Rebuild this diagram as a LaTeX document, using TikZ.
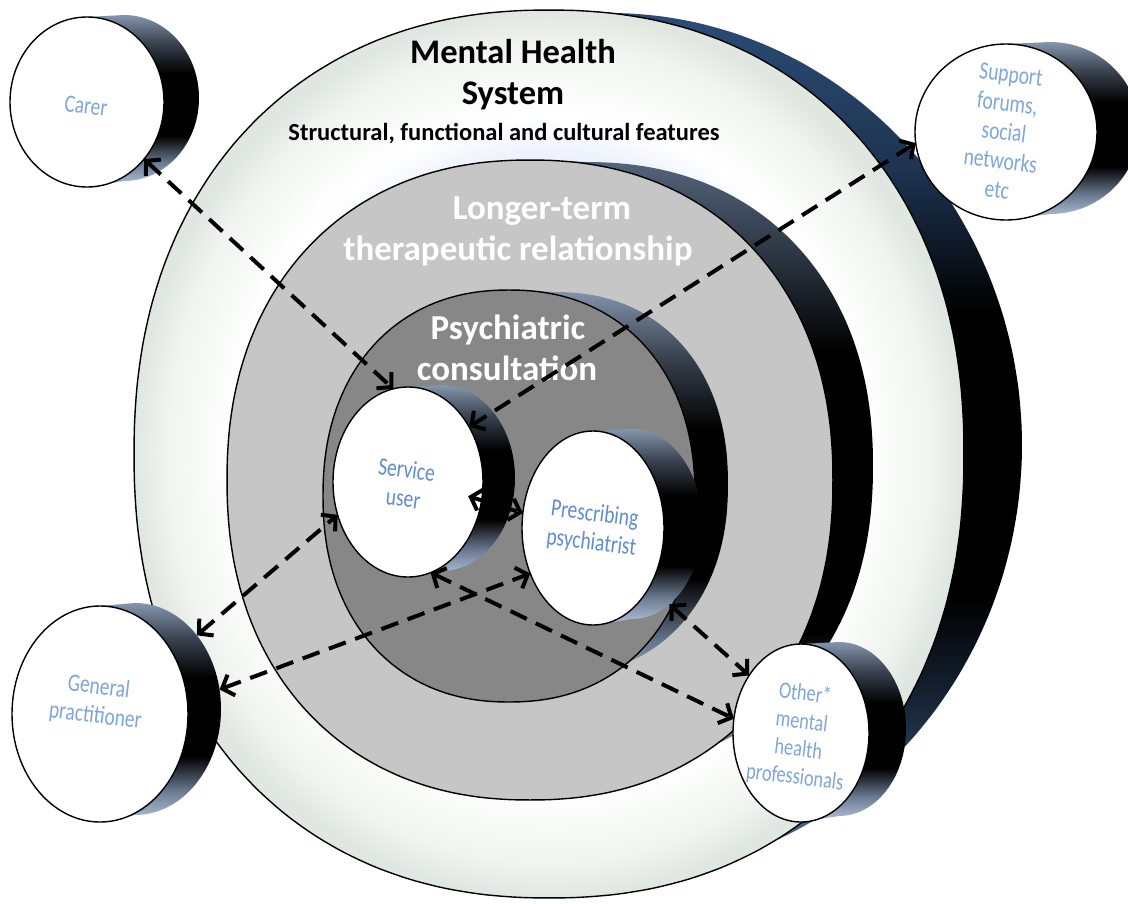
\documentclass[tikz,border=0pt]{standalone}
\usepackage{fontspec}
\setmainfont{Carlito}
\usetikzlibrary{shapes.geometric,arrows.meta}
% colours
\definecolor{glowA}{HTML}{E6EDFB}
\definecolor{rimA}{HTML}{F1F5F1}
\definecolor{rimB}{HTML}{E0E6E0}
\definecolor{midFace}{HTML}{C6C6C6}
\definecolor{inFace}{HTML}{878787}
\definecolor{obA}{HTML}{5A7699}
\definecolor{obB}{HTML}{3F5B80}
\definecolor{obC}{HTML}{1B2B40}
\definecolor{obD}{HTML}{1D3452}
\definecolor{obE}{HTML}{2B4C75}
\definecolor{mbA}{HTML}{9AABC3}
\definecolor{mbB}{HTML}{5D6C82}
\definecolor{mbC}{HTML}{2E3846}
\definecolor{mbD}{HTML}{55657C}
\definecolor{sbA}{HTML}{B4C6DE}
\definecolor{sbB}{HTML}{6B7B92}
\definecolor{sbC}{HTML}{3A4350}
\definecolor{sbD}{HTML}{8495AD}
\definecolor{nodeBlue}{HTML}{7EA5DC}
\definecolor{nodeBlueD}{HTML}{5F8CCF}
% shadings (bottom = 25bp, top = 75bp)
\pgfdeclareverticalshading{obside}{100bp}{color(0bp)=(obA); color(25bp)=(obA); color(30bp)=(obB); color(35bp)=(obC); color(42bp)=(black); color(58bp)=(black); color(66bp)=(obD); color(75bp)=(obE); color(100bp)=(obE)}
\pgfdeclareverticalshading{mbside}{100bp}{color(0bp)=(mbA); color(25bp)=(mbA); color(32bp)=(mbB); color(38bp)=(black); color(60bp)=(black); color(68bp)=(mbC); color(75bp)=(mbD); color(100bp)=(mbD)}
\pgfdeclareverticalshading{smside}{100bp}{color(0bp)=(sbA); color(25bp)=(sbA); color(32bp)=(sbB); color(40bp)=(black); color(58bp)=(black); color(67bp)=(sbC); color(75bp)=(sbD); color(100bp)=(sbD)}
\pgfdeclareradialshading{oface}{\pgfpoint{0bp}{0bp}}{color(0bp)=(glowA); color(16bp)=(glowA); color(19bp)=(white); color(23bp)=(rimA); color(25bp)=(rimB); color(50bp)=(rimB)}
\tikzset{
  cylface/.style={ellipse, draw=black, line width=1.4pt, fill=white, inner sep=0pt, outer sep=0pt},
  cylback/.style={ellipse, inner sep=0pt, outer sep=0pt},
  ringline/.style={draw=black, line width=1.4pt},
  titlelbl/.style={inner sep=0pt, text=black, font=\fontsize{34.5}{41}\selectfont\bfseries},
  sublbl/.style={inner sep=0pt, text=black, font=\fontsize{24.5}{29}\selectfont\bfseries},
  ringlbl/.style={inner sep=0pt, text=white, font=\fontsize{35}{41}\selectfont\bfseries},
  nlbl/.style={inner sep=0pt, align=center, text=nodeBlue, font=\fontsize{25}{29}\selectfont, rotate=-7, xscale=0.78},
  nlblin/.style={inner sep=0pt, align=center, text=nodeBlueD, font=\fontsize{25}{29}\selectfont, rotate=-7, xscale=0.78},
  arr/.style={line width=4pt, dash pattern=on 18pt off 10pt, >={Straight Barb[length=10pt,width=22pt]}, <->}
}
% cylinder: name, cx, cy, rx, ry, back cx, back cy, back rx, back ry
\newcommand\cyl[9]{%
  \shade[shading=smside] (#2,#3-#5) -- (#6,#7-#9) arc[start angle=-90,end angle=90,x radius=#8,y radius=#9] -- (#2,#3+#5) arc[start angle=90,end angle=270,x radius=#4,y radius=#5] -- cycle;
  \node[cylback, minimum width=2*#8, minimum height=2*#9] (#1b) at (#6,#7) {};
  \node[cylface, minimum width=2*#4, minimum height=2*#5] (#1) at (#2,#3) {};
}
\begin{document}
\begin{tikzpicture}[x=1pt,y=-1pt]
\useasboundingbox (0,0) rectangle (1128,903);
\fill[white] (0,0) rectangle (1128,903);
\clip (0,0) rectangle (1128,903);

% ---------- outer disk: Mental Health System ----------
\shade[shading=obside]
  plot[smooth cycle,domain=2.5:357.5,samples=72,variable=\t] ({610+412*cos(\t)},{445+432*sin(\t)})
  plot[smooth cycle,domain=2.5:357.5,samples=72,variable=\t] ({549+415*cos(\t)*abs(cos(\t))^(-0.0909)},{454+444*sin(\t)*abs(sin(\t))^(-0.0909)})
  (549,10) -- (610,13) -- (610,877) -- (549,898) -- cycle;
\shadedraw[shading=oface, ringline]
  plot[smooth cycle,domain=2.5:357.5,samples=72,variable=\t] ({549+415*cos(\t)*abs(cos(\t))^(-0.0909)},{454+444*sin(\t)*abs(sin(\t))^(-0.0909)});

% ---------- middle disk: longer-term relationship ----------
\shade[shading=mbside]
  plot[smooth cycle,domain=2.5:357.5,samples=72,variable=\t] ({585+288*cos(\t)*abs(cos(\t))^(-0.0909)},{466+304*sin(\t)*abs(sin(\t))^(-0.0909)})
  plot[smooth cycle,domain=2.5:357.5,samples=72,variable=\t] ({530+303*cos(\t)*abs(cos(\t))^(-0.0909)},{480+320*sin(\t)*abs(sin(\t))^(-0.0909)})
  (530,160) -- (585,162) -- (585,770) -- (530,800) -- cycle;
\filldraw[fill=midFace, ringline]
  plot[smooth cycle,domain=2.5:357.5,samples=72,variable=\t] ({530+303*cos(\t)*abs(cos(\t))^(-0.0909)},{480+320*sin(\t)*abs(sin(\t))^(-0.0909)});

% ---------- inner disk: psychiatric consultation ----------
\shade[shading=smside]
  plot[smooth cycle,domain=2.5:357.5,samples=72,variable=\t] ({555+173*cos(\t)*abs(cos(\t))^(-0.0909)},{484+192*sin(\t)*abs(sin(\t))^(-0.0909)})
  plot[smooth cycle,domain=2.5:357.5,samples=72,variable=\t] ({509+186*cos(\t)*abs(cos(\t))^(-0.0909)},{496+206*sin(\t)*abs(sin(\t))^(-0.0909)})
  (509,290) -- (555,292) -- (555,676) -- (509,702) -- cycle;
\filldraw[fill=inFace, ringline]
  plot[smooth cycle,domain=2.5:357.5,samples=72,variable=\t] ({509+186*cos(\t)*abs(cos(\t))^(-0.0909)},{496+206*sin(\t)*abs(sin(\t))^(-0.0909)});

% ---------- ring labels ----------
\node[titlelbl, anchor=base] (mhs1) at (513,63) {Mental Health};
\node[titlelbl, anchor=base] (mhs2) at (513,104) {System};
\node[sublbl, anchor=base] (mhs3) at (504,140) {Structural, functional and cultural features};
\node[ringlbl, anchor=base] (ltr1) at (542,219) {Longer-term};
\node[ringlbl, anchor=base] (ltr2) at (518,260) {therapeutic relationship};
\node[ringlbl, anchor=base] (pc1) at (508,339) {Psychiatric};
\node[ringlbl, anchor=base] (pc2) at (507,380) {consultation};

% ---------- actor cylinders ----------
\cyl{su}{408}{482}{75}{95}{441}{478}{74}{93}
\cyl{pp}{593}{528}{71}{97}{632}{524}{70}{95}
\cyl{carer}{87}{102}{77}{85}{124}{98}{75}{83}
\cyl{support}{1006}{132}{91}{88}{1050}{128}{89}{86}
\cyl{gp}{100}{714}{88}{108}{135}{709}{86}{106}
\cyl{other}{801}{733}{68}{89}{839}{729}{67}{87}

% ---------- connectors ----------
\draw[arr] (carer.-45) -- (su.99);
\draw[arr] (support.187) -- (su.42);
\draw[arr, shorten <=-14pt] (su.-14) -- (pp.168);
\draw[arr] (gpb.50) -- (su.205);
\draw[arr] (gpb.13) -- (pp.216);
\draw[arr] (su.-76) -- (other.168);
\draw[arr] (ppb.-65) -- (other.132);

% ---------- actor labels ----------
\node[nlbl] (carerT) at (86,106) {Carer};
\node[nlbl] (supportT) at (1004,132) {Support\\forums,\\social\\networks\\etc};
\node[nlblin] (suT) at (405,484) {Service\\user};
\node[nlblin] (ppT) at (593,529) {Prescribing\\psychiatrist};
\node[nlbl] (gpT) at (97,702) {General\\practitioner};
\node[nlbl, font=\fontsize{23.5}{28}\selectfont] (otherT) at (800,736) {Other*\\mental\\health\\professionals};
\end{tikzpicture}
\end{document}
